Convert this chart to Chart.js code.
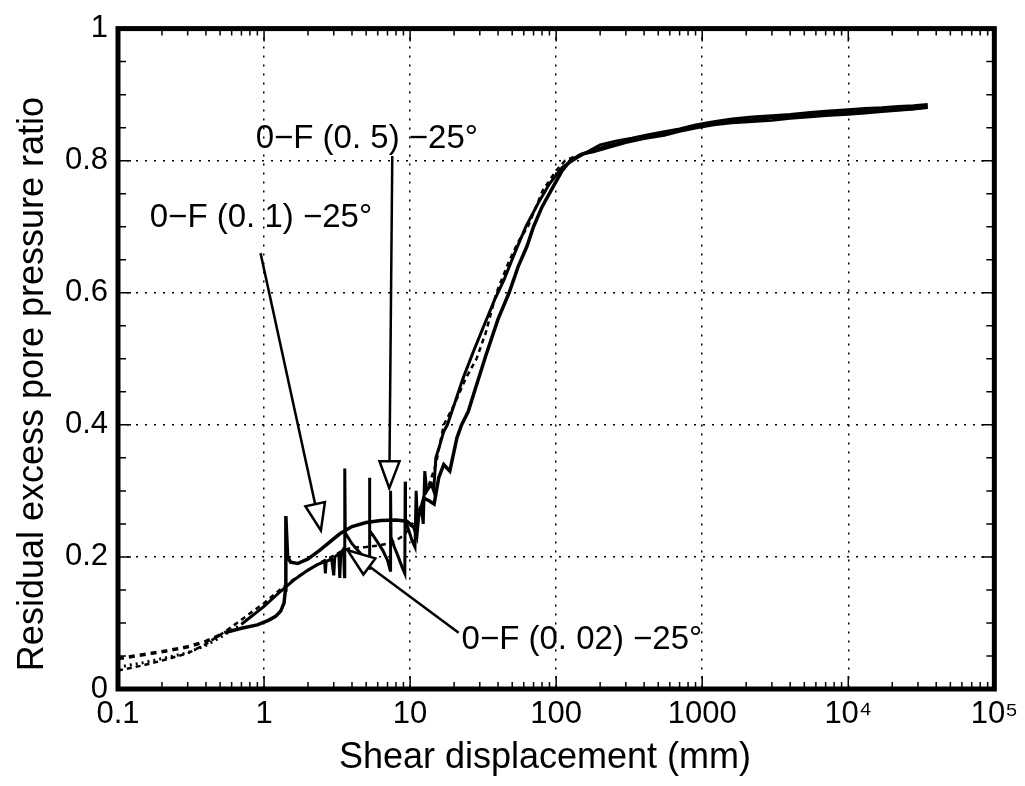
<!DOCTYPE html>
<html>
<head>
<meta charset="utf-8">
<script src="https://cdn.jsdelivr.net/npm/chart.js@4"></script>
<style>
  body { margin: 0; background: #fff; }
  #wrap { width: 1025px; height: 786px; }
</style>
</head>
<body>
<div id="wrap"><canvas id="chart" width="1025" height="786"></canvas></div>
<script>
// axis ticks
const decades = [0.1, 1, 10, 100, 1000, 1e4, 1e5];
const decadeLabels = ["0.1", "1", "10", "100", "1000", "10⁴", "10⁵"];
const ratioTicks = [0, 0.2, 0.4, 0.6, 0.8, 1];

// 0-F(0.1)-25°  (solid, smooth hump)
const dispA = [0.1, 0.13, 0.17, 0.22, 0.3, 0.4, 0.55, 0.7, 0.9, 1.07,
  1.2, 1.3, 1.37, 1.4, 1.41, 1.45, 1.52, 1.7, 2, 2.4,
  2.8, 3.3, 4, 5, 6.3, 8, 9.5, 10.6, 11.1, 11.4,
  12.4, 13.5, 14.6, 15.7, 17, 18.7, 20.9, 22.5, 25, 28,
  33, 40, 47.6, 55, 63, 70, 80, 95, 110, 125,
  150, 180, 220, 270, 330, 420, 550, 700, 900, 1200,
  1600, 2200, 3000, 4000, 5500, 7000, 10000, 13000, 17000, 22000,
  28000, 35000];
const ratioA = [0.046, 0.05, 0.054, 0.058, 0.064, 0.072, 0.086, 0.092, 0.097, 0.104,
  0.11, 0.118, 0.13, 0.15, 0.262, 0.2, 0.192, 0.19, 0.197, 0.21,
  0.222, 0.235, 0.246, 0.252, 0.255, 0.256, 0.254, 0.245, 0.232, 0.26,
  0.289, 0.285, 0.28, 0.32, 0.34, 0.33, 0.38, 0.40, 0.42, 0.455,
  0.505, 0.56, 0.6, 0.64, 0.67, 0.7, 0.73, 0.76, 0.785, 0.8,
  0.81, 0.815, 0.822, 0.826, 0.832, 0.836, 0.841, 0.846, 0.852, 0.857,
  0.86, 0.862, 0.865, 0.867, 0.869, 0.871, 0.873, 0.875, 0.876, 0.878,
  0.879, 0.882];

// 0-F(0.5)-25°  (stick-slip spikes)
const dispB = [0.1, 0.15, 0.2, 0.3, 0.4, 0.5, 0.7, 1, 1.3, 1.6,
  2, 2.3, 2.6, 2.63, 2.66, 2.9, 3.0, 3.05, 3.25, 3.3,
  3.35, 3.5, 3.55, 3.57, 3.6, 3.8, 4, 4.3, 4.6, 5,
  5.25, 5.27, 5.3, 5.6, 6, 6.5, 7, 7.3, 7.35, 7.4,
  7.8, 8.3, 8.8, 9.2, 9.25, 9.3, 9.8, 10.3, 10.8, 11,
  11.2, 12, 12.3, 12.6, 13, 14, 14.5, 15, 16, 17,
  18, 20, 23, 27, 32, 38, 44, 52, 62, 75,
  90, 110, 140, 200, 260, 330, 420, 550, 700, 900,
  1200, 1600, 2200, 3000, 4000, 5500, 7000, 10000, 13000, 17000,
  22000, 28000, 35000];
const ratioB = [0.033, 0.04, 0.046, 0.055, 0.066, 0.078, 0.098, 0.125, 0.148, 0.165,
  0.18, 0.188, 0.193, 0.175, 0.193, 0.197, 0.172, 0.2, 0.205, 0.168,
  0.205, 0.212, 0.17, 0.334, 0.236, 0.228, 0.22, 0.212, 0.205, 0.195,
  0.183, 0.32, 0.24, 0.232, 0.222, 0.21, 0.195, 0.18, 0.3, 0.23,
  0.215, 0.2, 0.185, 0.175, 0.314, 0.255, 0.24, 0.225, 0.215, 0.3,
  0.26, 0.27, 0.25, 0.33, 0.3, 0.31, 0.3, 0.35, 0.37, 0.39,
  0.4, 0.43, 0.47, 0.51, 0.55, 0.59, 0.62, 0.66, 0.7, 0.735,
  0.765, 0.79, 0.805, 0.824, 0.83, 0.834, 0.839, 0.844, 0.848, 0.854,
  0.859, 0.863, 0.866, 0.868, 0.87, 0.873, 0.875, 0.877, 0.879, 0.88,
  0.882, 0.883, 0.885];

// 0-F(0.02)-25°  (dotted)
const dispC = [0.1, 0.15, 0.2, 0.3, 0.4, 0.55, 0.7, 1, 1.2, 1.5,
  2, 2.5, 3, 3.5, 4, 5, 6, 7, 8, 9,
  10, 11, 12, 13.5, 15, 17, 20, 24, 28.5, 33,
  39, 48, 56, 64, 81, 100, 115, 140, 180, 230,
  300, 400, 550, 700, 900, 1200, 1600, 2200, 3000, 4000,
  5500, 7000, 10000, 13000, 17000, 22000, 28000, 35000];
const ratioC = [0.028, 0.036, 0.043, 0.054, 0.068, 0.088, 0.105, 0.13, 0.145, 0.162,
  0.18, 0.193, 0.202, 0.21, 0.214, 0.215, 0.217, 0.22, 0.225, 0.232,
  0.245, 0.26, 0.28, 0.31, 0.34, 0.4, 0.43, 0.47, 0.5, 0.54,
  0.6, 0.65, 0.68, 0.7, 0.755, 0.785, 0.8, 0.808, 0.813, 0.82,
  0.827, 0.833, 0.838, 0.844, 0.849, 0.854, 0.857, 0.859, 0.861, 0.864,
  0.866, 0.868, 0.87, 0.872, 0.874, 0.876, 0.878, 0.88];

// labels with arrows, in data coords
const notes = [
  { text: "0−F (0. 1) −25°", x: 0.165, y: 0.713, from: [0.946, 0.66], to: [2.45, 0.24] },
  { text: "0−F (0. 5) −25°", x: 0.876, y: 0.833, from: [7.55, 0.807], to: [7.2, 0.304] },
  { text: "0−F (0. 02) −25°", x: 22.5, y: 0.075, from: [21.5, 0.085], to: [3.74, 0.21] },
];

const toPoints = (xs, ys) => xs.map((v, i) => ({ x: v, y: ys[i] }));

const frame = {
  id: "frame",
  afterDatasetsDraw(chart) {
    const { ctx, chartArea: a, scales: { x, y } } = chart;
    ctx.save();
    ctx.strokeStyle = "#000";
    ctx.lineWidth = 1.5;
    ctx.beginPath();
    // inward ticks on x
    decades.forEach((d, i) => {
      const px = x.getPixelForValue(d);
      ctx.moveTo(px, a.bottom); ctx.lineTo(px, a.bottom - 13);
      ctx.moveTo(px, a.top); ctx.lineTo(px, a.top + 13);
      if (i === decades.length - 1) return;
      for (let k = 2; k <= 9; k++) {
        const pm = x.getPixelForValue(d * k);
        ctx.moveTo(pm, a.bottom); ctx.lineTo(pm, a.bottom - 7);
        ctx.moveTo(pm, a.top); ctx.lineTo(pm, a.top + 7);
      }
    });
    // inward ticks on y
    for (let k = 0; k <= 20; k++) {
      const py = y.getPixelForValue(k * 0.05);
      const len = k % 4 === 0 ? 13 : 8;
      ctx.moveTo(a.left, py); ctx.lineTo(a.left + len, py);
      ctx.moveTo(a.right, py); ctx.lineTo(a.right - len, py);
    }
    ctx.stroke();
    // frame
    ctx.lineWidth = 5;
    ctx.strokeRect(a.left, a.top, a.width, a.height);

    // arrows + labels
    ctx.lineWidth = 2.5;
    ctx.font = "33px 'Liberation Sans', Arial, sans-serif";
    ctx.fillStyle = "#000";
    ctx.textBaseline = "middle";
    ctx.textAlign = "left";
    notes.forEach(n => {
      const x0 = x.getPixelForValue(n.from[0]), y0 = y.getPixelForValue(n.from[1]);
      const x1 = x.getPixelForValue(n.to[0]), y1 = y.getPixelForValue(n.to[1]);
      const len = Math.hypot(x1 - x0, y1 - y0);
      const ux = (x1 - x0) / len, uy = (y1 - y0) / len;
      const bx = x1 - ux * 27, by = y1 - uy * 27;
      ctx.beginPath();
      ctx.moveTo(x0, y0); ctx.lineTo(bx, by);
      ctx.stroke();
      ctx.beginPath();
      ctx.moveTo(x1, y1);
      ctx.lineTo(bx - uy * 10, by + ux * 10);
      ctx.lineTo(bx + uy * 10, by - ux * 10);
      ctx.closePath();
      ctx.fillStyle = "#fff";
      ctx.fill();
      ctx.stroke();
      ctx.fillStyle = "#000";
      ctx.fillText(n.text, x.getPixelForValue(n.x), y.getPixelForValue(n.y));
    });

    // axis titles
    ctx.font = "36px 'Liberation Sans', Arial, sans-serif";
    ctx.textAlign = "center";
    ctx.textBaseline = "alphabetic";
    ctx.fillText("Shear displacement (mm)", 545, 768);
    ctx.translate(43, 384);
    ctx.rotate(-Math.PI / 2);
    ctx.fillText("Residual excess pore pressure ratio", 0, 0);
    ctx.restore();
  }
};

new Chart(document.getElementById("chart"), {
  type: "scatter",
  data: {
    datasets: [
      {
        label: "0-F(0.1)-25°",
        data: toPoints(dispA, ratioA),
        borderWidth: 3.5,
        segment: { borderDash: c => (c.p1.parsed.x <= 0.55 ? [6, 5] : undefined) }
      },
      {
        label: "0-F(0.5)-25°",
        data: toPoints(dispB, ratioB),
        borderWidth: 3,
        segment: { borderDash: c => (c.p1.parsed.x <= 0.7 ? [2, 4] : undefined) }
      },
      {
        label: "0-F(0.02)-25°",
        data: toPoints(dispC, ratioC),
        borderWidth: 2.5,
        segment: { borderDash: c => (c.p1.parsed.x <= 150 ? [5, 4] : undefined) }
      }
    ].map(d => ({ ...d, showLine: true, pointRadius: 0, borderColor: "#000", tension: 0 }))
  },
  options: {
    responsive: false,
    animation: false,
    layout: { padding: { top: 23, right: 23, left: 0, bottom: 0 } },
    plugins: { legend: { display: false }, tooltip: { enabled: false } },
    scales: {
      x: {
        type: "logarithmic",
        min: 0.1,
        max: 1e5,
        afterBuildTicks: s => { s.ticks = decades.map(v => ({ value: v })); },
        afterFit: s => { s.height = 97; },
        ticks: {
          autoSkip: false,
          maxRotation: 0,
          padding: 7,
          color: "#000",
          font: { family: "'Liberation Sans', Arial, sans-serif", size: 31 },
          callback: (v, i) => decadeLabels[i]
        },
        grid: { color: "#000", lineWidth: 1.5, drawTicks: false },
        border: { display: false, dash: [2, 7] }
      },
      y: {
        min: 0,
        max: 1,
        afterBuildTicks: s => { s.ticks = ratioTicks.map(v => ({ value: v })); },
        afterFit: s => { s.width = 118; },
        ticks: {
          padding: 10,
          color: "#000",
          font: { family: "'Liberation Sans', Arial, sans-serif", size: 31 },
          callback: v => String(v)
        },
        grid: { color: "#000", lineWidth: 1.5, drawTicks: false },
        border: { display: false, dash: [2, 7] }
      }
    }
  },
  plugins: [frame]
});
</script>
</body>
</html>
